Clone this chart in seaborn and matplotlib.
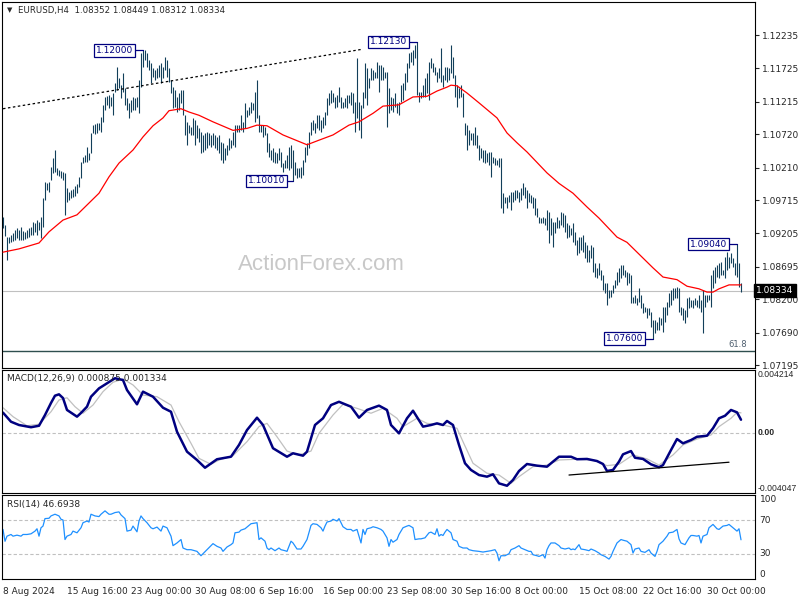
import matplotlib
matplotlib.use("Agg")
import matplotlib.pyplot as plt
import matplotlib.transforms as mtransforms
import seaborn as sns

sns.set_style("white")
plt.rcParams["font.family"] = ["DejaVu Sans"]

# ---- EURUSD H4 bars (high / low), one entry per bar, 8 Aug 08:00 onwards ----
high = [
    1.0945, 1.0933, 1.0915, 1.0915, 1.0918, 1.0921, 1.0926, 1.0929, 1.0926, 1.0930,
    1.0924, 1.0923, 1.0926, 1.0929, 1.0930, 1.0938, 1.0936, 1.0941, 1.0938, 1.0945,
    1.0975, 1.0999, 1.0997, 1.0999, 1.1022, 1.1036, 1.1048, 1.1020, 1.1017, 1.1016,
    1.1014, 1.1013, 1.0990, 1.0984, 1.0987, 1.0988, 1.0993, 1.0996, 1.1007, 1.1030,
    1.1037, 1.1040, 1.1053, 1.1043, 1.1074, 1.1086, 1.1088, 1.1089, 1.1089, 1.1098,
    1.1117, 1.1129, 1.1130, 1.1132, 1.1129, 1.1135, 1.1150, 1.1175, 1.1158, 1.1147,
    1.1165, 1.1143, 1.1127, 1.1120, 1.1124, 1.1129, 1.1127, 1.1129, 1.1155, 1.1196,
    1.1200, 1.1200, 1.1196, 1.1185, 1.1181, 1.1173, 1.1170, 1.1173, 1.1178, 1.1181,
    1.1175, 1.1190, 1.1185, 1.1173, 1.1155, 1.1144, 1.1140, 1.1129, 1.1135, 1.1140,
    1.1140, 1.1101, 1.1091, 1.1086, 1.1083, 1.1097, 1.1094, 1.1086, 1.1081, 1.1075,
    1.1071, 1.1074, 1.1075, 1.1074, 1.1071, 1.1074, 1.1071, 1.1068, 1.1071, 1.1060,
    1.1059, 1.1051, 1.1056, 1.1066, 1.1063, 1.1075, 1.1086, 1.1086, 1.1086, 1.1101,
    1.1091, 1.1120, 1.1109, 1.1114, 1.1121, 1.1120, 1.1137, 1.1155, 1.1101, 1.1086,
    1.1086, 1.1083, 1.1074, 1.1059, 1.1048, 1.1051, 1.1045, 1.1043, 1.1051, 1.1045,
    1.1028, 1.1033, 1.1040, 1.1053, 1.1056, 1.1048, 1.1030, 1.1020, 1.1020, 1.1022,
    1.1033, 1.1053, 1.1059, 1.1075, 1.1091, 1.1094, 1.1089, 1.1101, 1.1101, 1.1094,
    1.1098, 1.1106, 1.1127, 1.1135, 1.1140, 1.1135, 1.1129, 1.1132, 1.1144, 1.1129,
    1.1121, 1.1127, 1.1132, 1.1132, 1.1137, 1.1135, 1.1121, 1.1188, 1.1121, 1.1117,
    1.1137, 1.1181, 1.1173, 1.1158, 1.1173, 1.1170, 1.1167, 1.1182, 1.1178, 1.1178,
    1.1175, 1.1167, 1.1167, 1.1143, 1.1129, 1.1127, 1.1135, 1.1120, 1.1121, 1.1147,
    1.1150, 1.1165, 1.1181, 1.1196, 1.1198, 1.1201, 1.1208, 1.1213, 1.1137, 1.1137,
    1.1147, 1.1158, 1.1165, 1.1182, 1.1188, 1.1181, 1.1175, 1.1167, 1.1173, 1.1204,
    1.1162, 1.1175, 1.1175, 1.1173, 1.1208, 1.1190, 1.1162, 1.1147, 1.1143, 1.1147,
    1.1135, 1.1089, 1.1086, 1.1078, 1.1074, 1.1074, 1.1083, 1.1071, 1.1056, 1.1051,
    1.1048, 1.1048, 1.1043, 1.1045, 1.1045, 1.1037, 1.1036, 1.1033, 1.1036, 1.1036,
    1.0982, 1.0976, 1.0976, 1.0979, 1.0984, 1.0984, 1.0987, 1.0987, 1.0984, 1.0990,
    1.0997, 1.0991, 1.0987, 1.0982, 1.0979, 1.0976, 1.0975, 1.0959, 1.0946, 1.0944,
    1.0946, 1.0944, 1.0956, 1.0953, 1.0944, 1.0938, 1.0938, 1.0946, 1.0941, 1.0953,
    1.0952, 1.0949, 1.0936, 1.0933, 1.0929, 1.0936, 1.0923, 1.0911, 1.0915, 1.0915,
    1.0918, 1.0908, 1.0903, 1.0895, 1.0903, 1.0900, 1.0875, 1.0868, 1.0875, 1.0865,
    1.0857, 1.0845, 1.0845, 1.0834, 1.0834, 1.0842, 1.0850, 1.0862, 1.0868, 1.0872,
    1.0872, 1.0865, 1.0862, 1.0860, 1.0857, 1.0823, 1.0827, 1.0822, 1.0837, 1.0827,
    1.0814, 1.0808, 1.0807, 1.0807, 1.0801, 1.0788, 1.0788, 1.0785, 1.0793, 1.0791,
    1.0808, 1.0808, 1.0816, 1.0830, 1.0834, 1.0837, 1.0837, 1.0839, 1.0837, 1.0808,
    1.0807, 1.0804, 1.0822, 1.0823, 1.0819, 1.0819, 1.0822, 1.0819, 1.0827, 1.0819,
    1.0834, 1.0827, 1.0827, 1.0827, 1.0857, 1.0865, 1.0869, 1.0872, 1.0875, 1.0877,
    1.0865, 1.0885, 1.0892, 1.0885, 1.0891, 1.0883, 1.0875, 1.0904, 1.0875, 1.0845,
]
low = [
    1.0929, 1.0916, 1.0880, 1.0906, 1.0908, 1.0909, 1.0911, 1.0914, 1.0911, 1.0911,
    1.0911, 1.0912, 1.0914, 1.0915, 1.0918, 1.0918, 1.0923, 1.0918, 1.0926, 1.0914,
    1.0930, 1.0972, 1.0987, 1.0984, 1.1002, 1.1013, 1.1014, 1.1010, 1.1008, 1.1005,
    1.1002, 1.0949, 1.0969, 1.0972, 1.0975, 1.0976, 1.0978, 1.0982, 1.0991, 1.1005,
    1.1028, 1.1030, 1.1030, 1.1033, 1.1043, 1.1074, 1.1072, 1.1074, 1.1078, 1.1075,
    1.1091, 1.1109, 1.1117, 1.1112, 1.1115, 1.1101, 1.1137, 1.1140, 1.1143, 1.1127,
    1.1137, 1.1117, 1.1109, 1.1097, 1.1106, 1.1109, 1.1109, 1.1114, 1.1104, 1.1144,
    1.1175, 1.1185, 1.1175, 1.1170, 1.1150, 1.1159, 1.1155, 1.1158, 1.1159, 1.1150,
    1.1158, 1.1170, 1.1159, 1.1152, 1.1135, 1.1112, 1.1114, 1.1106, 1.1109, 1.1120,
    1.1101, 1.1071, 1.1056, 1.1074, 1.1071, 1.1071, 1.1056, 1.1066, 1.1060, 1.1043,
    1.1045, 1.1048, 1.1051, 1.1056, 1.1053, 1.1056, 1.1051, 1.1048, 1.1043, 1.1033,
    1.1028, 1.1033, 1.1040, 1.1048, 1.1051, 1.1056, 1.1053, 1.1075, 1.1075, 1.1078,
    1.1075, 1.1082, 1.1098, 1.1101, 1.1104, 1.1109, 1.1091, 1.1097, 1.1075, 1.1075,
    1.1068, 1.1071, 1.1045, 1.1037, 1.1033, 1.1030, 1.1028, 1.1028, 1.1033, 1.1022,
    1.1014, 1.1020, 1.1020, 1.1017, 1.1020, 1.1001, 1.1010, 1.1005, 1.1007, 1.1005,
    1.1010, 1.1030, 1.1040, 1.1051, 1.1071, 1.1078, 1.1074, 1.1081, 1.1078, 1.1075,
    1.1081, 1.1086, 1.1101, 1.1117, 1.1120, 1.1121, 1.1112, 1.1114, 1.1121, 1.1112,
    1.1112, 1.1114, 1.1112, 1.1120, 1.1117, 1.1104, 1.1075, 1.1097, 1.1078, 1.1066,
    1.1112, 1.1127, 1.1117, 1.1143, 1.1155, 1.1155, 1.1158, 1.1158, 1.1137, 1.1155,
    1.1155, 1.1158, 1.1083, 1.1104, 1.1109, 1.1106, 1.1114, 1.1104, 1.1101, 1.1121,
    1.1124, 1.1140, 1.1152, 1.1173, 1.1182, 1.1178, 1.1188, 1.1132, 1.1121, 1.1127,
    1.1129, 1.1129, 1.1135, 1.1124, 1.1173, 1.1167, 1.1162, 1.1152, 1.1158, 1.1152,
    1.1144, 1.1155, 1.1152, 1.1155, 1.1165, 1.1158, 1.1129, 1.1114, 1.1127, 1.1129,
    1.1098, 1.1071, 1.1048, 1.1056, 1.1063, 1.1056, 1.1056, 1.1051, 1.1033, 1.1036,
    1.1030, 1.1028, 1.1030, 1.1025, 1.1007, 1.1028, 1.1025, 1.1025, 1.1022, 1.0959,
    1.0952, 1.0967, 1.0959, 1.0969, 1.0956, 1.0969, 1.0972, 1.0975, 1.0969, 1.0972,
    1.0979, 1.0975, 1.0959, 1.0969, 1.0967, 1.0959, 1.0949, 1.0946, 1.0936, 1.0936,
    1.0936, 1.0933, 1.0926, 1.0906, 1.0918, 1.0900, 1.0921, 1.0929, 1.0929, 1.0933,
    1.0930, 1.0923, 1.0914, 1.0915, 1.0918, 1.0907, 1.0903, 1.0888, 1.0891, 1.0895,
    1.0892, 1.0883, 1.0877, 1.0877, 1.0883, 1.0862, 1.0854, 1.0853, 1.0857, 1.0850,
    1.0834, 1.0830, 1.0811, 1.0822, 1.0823, 1.0830, 1.0837, 1.0842, 1.0846, 1.0853,
    1.0857, 1.0854, 1.0842, 1.0845, 1.0814, 1.0814, 1.0814, 1.0811, 1.0816, 1.0807,
    1.0799, 1.0801, 1.0791, 1.0796, 1.0778, 1.0760, 1.0768, 1.0773, 1.0773, 1.0781,
    1.0770, 1.0785, 1.0796, 1.0808, 1.0811, 1.0819, 1.0822, 1.0822, 1.0801, 1.0796,
    1.0788, 1.0784, 1.0793, 1.0807, 1.0808, 1.0807, 1.0811, 1.0808, 1.0807, 1.0801,
    1.0769, 1.0808, 1.0816, 1.0819, 1.0808, 1.0837, 1.0845, 1.0854, 1.0853, 1.0857,
    1.0857, 1.0853, 1.0865, 1.0868, 1.0875, 1.0869, 1.0857, 1.0854, 1.0839, 1.0831,
]

# moving average (red), read at selected bars
ma_bar = [0, 8, 18, 23, 30, 37, 42, 48, 53, 58, 65, 70, 75, 80, 83, 89, 93, 98, 105, 115,
          122, 127, 132, 140, 152, 158, 165, 173, 178, 185, 190, 198, 205, 212, 217, 222,
          224, 227, 232, 238, 247, 252, 257, 262, 272, 278, 285, 292, 298, 307, 312, 317,
          325, 330, 337, 342, 348, 352, 355, 358, 363, 369]
ma_val = [1.0892, 1.0897, 1.0906, 1.0923, 1.0941, 1.0949, 1.0964, 1.0982, 1.1007, 1.1028,
          1.1048, 1.1068, 1.1085, 1.1097, 1.1108, 1.1111, 1.1106, 1.1101, 1.1091, 1.1078,
          1.1081, 1.1086, 1.1085, 1.1071, 1.1056, 1.1063, 1.1071, 1.1086, 1.1091, 1.1104,
          1.1115, 1.1117, 1.1129, 1.1130, 1.1138, 1.1144, 1.1147, 1.1146, 1.1135, 1.1120,
          1.1097, 1.1074, 1.1059, 1.1045, 1.1013, 1.0997, 1.0982, 1.0961, 1.0944, 1.0915,
          1.0907, 1.0892, 1.0868, 1.0854, 1.0850, 1.0840, 1.0836, 1.0831, 1.0831, 1.0836,
          1.0842, 1.0842]

price_ticks = [1.12235, 1.11725, 1.11215, 1.10720, 1.10210, 1.09715, 1.09205,
               1.08695, 1.08200, 1.07690, 1.07195]
last_price = 1.08334
fib_618 = 1.0741
trend_bar = [0, 180]
trend_val = [1.1111, 1.1202]
# (label, bar where box ends, bar of the extreme, price)
flags = [("1.12000", 65, 70, 1.1200), ("1.12130", 202, 207, 1.1213),
         ("1.10010", 141, 145, 1.1001), ("1.07600", 320, 325, 1.0760),
         ("1.09040", 362, 367, 1.0904)]

# ---- MACD(12,26,9) ----
macd_bar = [0, 4, 8, 14, 18, 21, 24, 26, 28, 30, 32, 37, 39, 42, 44, 48, 52, 56, 60, 62,
            67, 70, 75, 80, 84, 87, 92, 97, 101, 107, 114, 118, 122, 127, 130, 135, 142,
            145, 150, 152, 156, 160, 164, 168, 174, 178, 182, 188, 192, 194, 198, 202,
            205, 210, 214, 217, 220, 222, 225, 228, 231, 234, 238, 242, 245, 248, 252,
            255, 258, 262, 267, 272, 275, 278, 284, 287, 292, 297, 300, 302, 305, 308,
            310, 314, 316, 320, 324, 328, 330, 334, 337, 340, 344, 347, 352, 355, 358,
            361, 364, 367, 369]
macd_val = [0.00135, 0.00074, 0.00052, 0.00037, 0.00047, 0.00119, 0.00200, 0.00249,
            0.00258, 0.00233, 0.00153, 0.00108, 0.00133, 0.00175, 0.00242, 0.00298,
            0.00332, 0.00366, 0.00354, 0.00287, 0.00191, 0.00276, 0.00242, 0.00168,
            0.00141, 0.00007, -0.00127, -0.00183, -0.00235, -0.00178, -0.00161, -0.00082,
            0.00018, 0.00101, 0.00052, -0.00104, -0.00161, -0.00138, -0.00154, -0.00127,
            0.00052, 0.00097, 0.00186, 0.00208, 0.00175, 0.00101, 0.00153, 0.00182,
            0.00153, 0.00052, -0.00004, 0.00097, 0.00148, 0.00041, 0.00052, 0.00063,
            0.00052, 0.00079, 0.00052, -0.00082, -0.00205, -0.00250, -0.00284, -0.00295,
            -0.00279, -0.00340, -0.00356, -0.00317, -0.00257, -0.00210, -0.00221,
            -0.00228, -0.00194, -0.00161, -0.00161, -0.00178, -0.00176, -0.00190,
            -0.00210, -0.00257, -0.00250, -0.00194, -0.00145, -0.00123, -0.00168,
            -0.00176, -0.00212, -0.00232, -0.00217, -0.00116, -0.00042, -0.00071,
            -0.00049, -0.00027, -0.00020, 0.00030, 0.00097, 0.00114, 0.00153, 0.00137,
            0.000875]
signal_bar = [0, 5, 12, 18, 24, 28, 32, 36, 40, 45, 50, 55, 60, 65, 70, 77, 84, 88, 94,
              98, 104, 108, 115, 122, 128, 132, 137, 142, 148, 154, 158, 165, 170, 177,
              184, 190, 197, 200, 207, 212, 220, 227, 230, 235, 242, 248, 254, 258, 265,
              272, 278, 287, 295, 302, 308, 315, 322, 328, 335, 340, 347, 354, 358, 364,
              367, 369]
signal_val = [0.00168, 0.00108, 0.00047, 0.00057, 0.00141, 0.00220, 0.00235, 0.00175,
              0.00131, 0.00186, 0.00276, 0.00339, 0.00361, 0.00321, 0.00253, 0.00242,
              0.00186, 0.00074, -0.00071, -0.00172, -0.00212, -0.00183, -0.00154,
              -0.00060, 0.00041, 0.00063, -0.00027, -0.00123, -0.00149, -0.00123,
              -0.00004, 0.00119, 0.00191, 0.00164, 0.00131, 0.00164, 0.00097, 0.00041,
              0.00097, 0.00063, 0.00052, 0.00030, -0.00060, -0.00205, -0.00272, -0.00284,
              -0.00340, -0.00295, -0.00228, -0.00217, -0.00183, -0.00178, -0.00183,
              -0.00221, -0.00212, -0.00149, -0.00176, -0.00217, -0.00149, -0.00082,
              -0.00042, -0.00015, 0.00041, 0.00097, 0.00137, 0.001334]
macd_trend_bar = [283, 363]
macd_trend_val = [-0.00284, -0.00198]
macd_top, macd_bottom = 0.004214, -0.004047

# ---- RSI(14) ----
rsi_bar = [0, 1, 2, 4, 5, 7, 9, 10, 12, 14, 16, 17, 18, 19, 20, 21, 23, 24, 26, 28, 29,
           30, 31, 32, 34, 35, 37, 39, 40, 42, 43, 44, 46, 48, 49, 51, 53, 54, 56, 58, 59,
           61, 62, 64, 65, 67, 68, 69, 70, 72, 74, 75, 77, 79, 80, 82, 84, 85, 87, 89, 90,
           92, 94, 97, 99, 100, 102, 104, 105, 107, 109, 110, 112, 114, 115, 116, 118,
           119, 121, 123, 124, 127, 128, 129, 131, 132, 133, 134, 136, 138, 139, 141,
           142, 144, 145, 147, 149, 150, 152, 154, 155, 157, 159, 160, 161, 162, 164,
           165, 167, 168, 169, 170, 172, 174, 175, 177, 178, 179, 180, 181, 182, 184,
           185, 187, 189, 190, 192, 193, 194, 195, 197, 198, 199, 200, 202, 203, 205,
           206, 208, 209, 211, 213, 214, 216, 217, 218, 219, 220, 221, 222, 223, 224,
           225, 227, 228, 230, 232, 233, 235, 238, 240, 242, 244, 246, 247, 248, 249,
           251, 253, 254, 256, 258, 259, 261, 263, 264, 265, 267, 268, 270, 271, 272,
           273, 274, 276, 278, 279, 281, 283, 284, 285, 286, 288, 289, 291, 293, 294,
           296, 298, 299, 301, 303, 304, 305, 307, 309, 310, 312, 314, 315, 316, 318,
           319, 321, 323, 324, 326, 327, 328, 330, 332, 333, 335, 337, 338, 339, 341,
           343, 344, 345, 347, 348, 349, 350, 352, 353, 355, 357, 358, 360, 362, 363,
           365, 367, 368, 369]
rsi_val = [59.0, 44.9, 51.0, 53.0, 51.0, 52.2, 51.0, 53.0, 53.0, 53.8, 57.0, 59.8, 51.0,
           61.0, 63.0, 71.9, 72.3, 75.1, 77.1, 75.1, 71.1, 70.3, 47.0, 51.0, 53.0, 57.0,
           55.0, 61.0, 67.0, 69.0, 67.8, 77.1, 75.1, 74.3, 77.1, 81.1, 77.1, 77.1, 79.1,
           79.9, 76.3, 71.9, 57.0, 58.2, 63.0, 56.2, 69.0, 75.1, 71.9, 67.0, 61.0, 59.8,
           61.8, 57.0, 63.0, 61.0, 51.0, 39.7, 42.9, 47.0, 36.9, 34.9, 34.9, 32.9, 27.7,
           30.1, 34.9, 39.7, 42.1, 38.9, 36.9, 32.9, 38.1, 40.9, 42.9, 55.0, 55.8, 58.2,
           59.8, 63.8, 65.8, 67.0, 47.0, 49.0, 45.0, 36.9, 34.9, 36.9, 33.7, 36.9, 34.9,
           33.7, 32.9, 45.0, 42.9, 35.7, 35.7, 38.9, 47.0, 63.8, 65.8, 65.0, 61.0, 57.0,
           63.0, 67.8, 69.0, 71.1, 69.0, 71.9, 67.0, 62.2, 59.0, 59.0, 57.0, 59.0, 51.0,
           42.9, 59.0, 53.0, 59.8, 61.0, 62.2, 61.0, 59.0, 57.0, 49.0, 38.9, 47.0, 43.8,
           47.0, 53.0, 57.0, 61.0, 63.0, 63.8, 61.0, 47.0, 47.8, 47.8, 49.0, 55.0, 55.8,
           53.0, 59.8, 51.0, 53.0, 51.8, 55.8, 59.0, 57.0, 55.0, 47.0, 45.0, 38.9, 36.9,
           36.9, 34.9, 33.7, 32.9, 32.1, 32.9, 33.7, 34.9, 30.9, 21.7, 27.7, 27.7, 30.1,
           34.9, 36.9, 39.7, 36.9, 34.9, 32.9, 32.9, 28.9, 27.7, 26.9, 28.9, 24.9, 34.9,
           39.7, 42.9, 42.9, 39.7, 36.9, 35.7, 36.9, 34.9, 35.7, 34.9, 40.9, 35.7, 34.9,
           33.7, 35.7, 33.7, 30.9, 28.9, 26.9, 23.7, 26.9, 32.9, 42.9, 47.0, 46.2, 45.0,
           40.9, 30.9, 35.7, 36.9, 32.9, 31.7, 34.9, 30.9, 26.9, 32.9, 40.9, 45.0, 51.0,
           55.0, 55.8, 59.0, 47.8, 42.9, 40.9, 49.0, 51.8, 51.8, 51.0, 51.8, 42.9, 51.0,
           53.0, 61.0, 65.0, 59.8, 59.0, 63.0, 63.8, 65.0, 61.0, 57.0, 59.8, 46.7]

date_tick_bar = [0, 32, 64, 96, 128, 160, 192, 224, 256, 288, 320, 352]
date_tick_label = ["8 Aug 2024", "15 Aug 16:00", "23 Aug 00:00", "30 Aug 08:00",
                   "6 Sep 16:00", "16 Sep 00:00", "23 Sep 08:00", "30 Sep 16:00",
                   "8 Oct 00:00", "15 Oct 08:00", "22 Oct 16:00", "30 Oct 00:00"]

BAR_C = "#123f5a"
NAVY = "#000080"
GREY = "#c0c0c0"
FS = 6.5

W, H = 800, 600
fig = plt.figure(figsize=(8, 6), dpi=100)


def panel(top, bottom, left=2, right=755):
    return fig.add_axes([left / W, 1 - bottom / H, (right - left) / W, (bottom - top) / H])


ax = panel(2, 368)
ax_macd = panel(370, 493)
ax_rsi = panel(495, 579)

n = min(len(high), len(low))
for a in (ax, ax_macd, ax_rsi):
    a.set_xlim(-0.5, 376)
    for s in a.spines.values():
        s.set_color("black")
        s.set_linewidth(0.8)
    a.set_facecolor("white")

# ---- main price panel ----
ax.set_ylim(1.07151, 1.12740)
ax.text(0.424, 0.284, "ActionForex.com", transform=ax.transAxes, ha="center",
        va="center", fontsize=16, color="#c8c8c8", family="Liberation Sans", zorder=0)
ax.axhline(last_price, color=GREY, lw=0.8, zorder=1)
ax.axhline(fib_618, color="#2f4f4f", lw=1.0, zorder=1)
ax.text(372, fib_618 + 0.0003, "61.8", ha="right", va="bottom", fontsize=6,
        color="#4f5f6f")
ax.vlines(list(range(n)), low[:n], high[:n], color=BAR_C, lw=0.8, zorder=3)
sns.lineplot(x=ma_bar, y=ma_val, ax=ax, color="red", linewidth=0.9, sort=False,
             estimator=None, legend=False, zorder=4)
ax.plot(trend_bar, trend_val, color="black", lw=0.9, dashes=(2, 2), zorder=4)
for txt, b0, b1, p in flags:
    ax.plot([b0, b1], [p, p], color=NAVY, lw=0.9, zorder=5)
    ax.text(b0, p, txt, ha="right", va="center", fontsize=FS, color=NAVY, zorder=6,
            bbox=dict(boxstyle="square,pad=0.18", fc="white", ec=NAVY, lw=0.9))

ax.yaxis.tick_right()
ax.set_yticks(price_ticks)
ax.set_yticklabels([f"{p:.5f}" for p in price_ticks])
ax.tick_params(axis="y", length=3, width=0.8, pad=2, labelsize=FS, direction="out")
ax.set_xticks([])
ax.set_xlabel("")
ax.set_ylabel("")
tr = mtransforms.blended_transform_factory(ax.transAxes, ax.transData)
ax.text(1.0015, last_price, f"{last_price:.5f}", transform=tr, ha="left", va="center",
        fontsize=FS, color="white", zorder=10, clip_on=False,
        bbox=dict(boxstyle="square,pad=0.25", fc="black", ec="black"))

# ---- MACD panel ----
ax_macd.set_ylim(macd_bottom, macd_top)
ax_macd.axhline(0, color=GREY, lw=0.8, dashes=(3, 2))
sns.lineplot(x=signal_bar, y=signal_val, ax=ax_macd, color=GREY, linewidth=0.9,
             sort=False, estimator=None, legend=False)
sns.lineplot(x=macd_bar, y=macd_val, ax=ax_macd, color=NAVY, linewidth=1.8,
             sort=False, estimator=None, legend=False)
ax_macd.plot(macd_trend_bar, macd_trend_val, color="black", lw=0.9)
ax_macd.set_xticks([])
ax_macd.set_yticks([])
ax_macd.set_xlabel("")
ax_macd.set_ylabel("")
mtr = mtransforms.blended_transform_factory(ax_macd.transAxes, ax_macd.transData)
macd_font = dict(fontsize=6.2, family=["Liberation Sans", "DejaVu Sans"], ha="left")
ax_macd.text(1.003, macd_top, f"{macd_top:.6f}", transform=mtr, va="top", **macd_font)
ax_macd.text(1.003, 0.0, "0.00", transform=mtr, va="center", fontweight="bold",
             **macd_font)
ax_macd.text(1.003, macd_bottom, f"{macd_bottom:.6f}", transform=mtr, va="bottom",
             **macd_font)

# ---- RSI panel ----
ax_rsi.set_ylim(0, 100)
for lvl in (70, 30):
    ax_rsi.axhline(lvl, color=GREY, lw=0.8, dashes=(3, 2))
sns.lineplot(x=rsi_bar, y=rsi_val, ax=ax_rsi, color="#1e90ff", linewidth=0.9,
             sort=False, estimator=None, legend=False)
ax_rsi.set_yticks([])
ax_rsi.set_ylabel("")
ax_rsi.set_xlabel("")
rtr = mtransforms.blended_transform_factory(ax_rsi.transAxes, ax_rsi.transData)
for val, txt, va in [(100, "100", "top"), (70, "70", "center"), (30, "30", "center"),
                     (0, "0", "bottom")]:
    ax_rsi.text(1.006, val, txt, transform=rtr, ha="left", va=va, fontsize=FS)
ax_rsi.set_xticks(date_tick_bar)
ax_rsi.set_xticklabels(date_tick_label)
for lbl in ax_rsi.get_xticklabels():
    lbl.set_horizontalalignment("left")
ax_rsi.tick_params(axis="x", length=4, width=0.8, pad=2, labelsize=FS, direction="out")

# ---- headers ----
fig.text(7 / W, 1 - 10 / H, "\u25bc", fontsize=5, va="center", ha="left")
fig.text(18 / W, 1 - 10 / H, "EURUSD,H4  1.08352 1.08449 1.08312 1.08334",
         fontsize=6.2, va="center", ha="left")
fig.text(7 / W, 1 - 379 / H, "MACD(12,26,9) 0.000875 0.001334", fontsize=FS,
         va="center", ha="left")
fig.text(7 / W, 1 - 504 / H, "RSI(14) 46.6938", fontsize=FS, va="center", ha="left")

fig.savefig("out.png", dpi=100, facecolor="white")
